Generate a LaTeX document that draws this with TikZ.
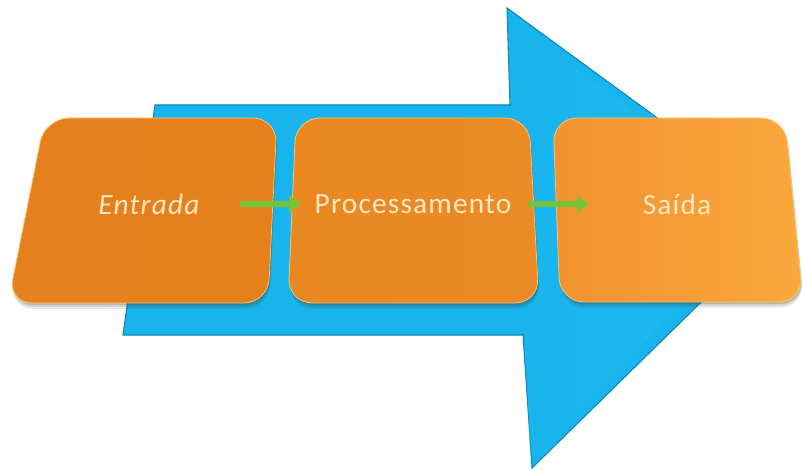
\documentclass[tikz,border=0pt]{standalone}
\usepackage{fontspec}
\setmainfont{Carlito}
\usetikzlibrary{arrows.meta}
\definecolor{flowblue}{HTML}{18B4EE}
\definecolor{flowbluelight}{HTML}{22C2F7}
\definecolor{flowblueedge}{HTML}{0F86B8}
\definecolor{stepA}{HTML}{E67F1D}
\definecolor{stepB}{HTML}{EA8922}
\definecolor{stepC}{HTML}{F2912F}
\definecolor{stepD}{HTML}{FAA83D}
\definecolor{steprim}{HTML}{F8C870}
\definecolor{labeltext}{HTML}{FCE7C2}
\definecolor{linkgreen}{HTML}{74C43A}
\begin{document}
\begin{tikzpicture}[x=0.75pt,y=-0.75pt,
  stepshape/.style={rounded corners=18pt, draw=steprim, line width=0.6pt},
  steplabel/.style={inner sep=0pt, text=labeltext,
    font=\fontsize{22pt}{25pt}\selectfont\addfontfeature{LetterSpace=4}},
  link/.style={draw=linkgreen, line width=3.8pt,
    -{Triangle[length=9pt,width=12.5pt]}}]
\useasboundingbox (0,0) rectangle (803,470);

% large background arrow
\path[fill=flowblue, draw=flowblueedge, line width=0.8pt, line join=miter]
  (155,105) -- (510,105) -- (507,8) -- (790,215) -- (532,468)
  -- (523,335) -- (123,335) -- cycle;
\path[left color=flowblue, right color=flowbluelight, opacity=0.6]
  (515,110) -- (510,20) -- (775,215) -- (530,455) -- (525,330) -- cycle;

% soft shadows under the three steps
\foreach \d/\o in {6/0.10,4/0.14,2/0.18}{
  \path[rounded corners=18pt, fill=black!60!brown, opacity=\o]
    (45+1,118+\d) -- (277+1,118+\d) -- (268+1,303+\d) -- (8+1,303+\d) -- cycle;
  \path[rounded corners=18pt, fill=black!60!brown, opacity=\o]
    (296+1,118+\d) -- (529+1,118+\d) -- (539+1,303+\d) -- (288+1,303+\d) -- cycle;
  \path[rounded corners=18pt, fill=black!60!brown, opacity=\o]
    (553+1,118+\d) -- (785+1,118+\d) -- (803+1,302+\d) -- (560+1,302+\d) -- cycle;
}

% the three steps
\path[stepshape, left color=stepA, right color=stepA!90!stepB]
  (45,118) -- (277,118) -- (268,303) -- (8,303) -- cycle;
\path[stepshape, left color=stepB!80!stepA, right color=stepB!70!stepC]
  (296,118) -- (529,118) -- (539,303) -- (288,303) -- cycle;
\path[stepshape, left color=stepC, right color=stepD]
  (553,118) -- (785,118) -- (803,302) -- (560,302) -- cycle;

% labels
\node[steplabel] (entrada) at (149,204) {\itshape Entrada};
\node[steplabel] (proc) at (413,204) {Processamento};
\node[steplabel] (saida) at (677,204) {Saída};

% links between the steps
\draw[link, shorten <=30pt, shorten >=10pt] (entrada.east) -- (proc.west);
\draw[link, shorten <=12pt, shorten >=40pt] (proc.east) -- (saida.west);
\end{tikzpicture}
\end{document}
